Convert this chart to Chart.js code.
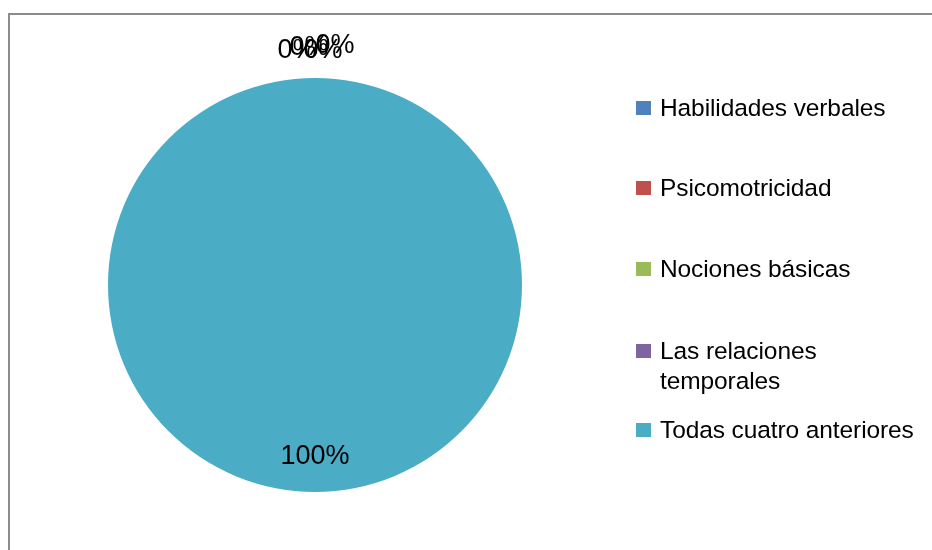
<!DOCTYPE html>
<html>
<head>
<meta charset="utf-8">
<script src="https://cdn.jsdelivr.net/npm/chart.js@4"></script>
<style>
  html, body { margin: 0; padding: 0; background: #fff; }
  #wrap { position: relative; width: 932px; height: 550px; overflow: hidden; }
  #frame { position: absolute; left: 8px; top: 13px; width: 1000px; height: 600px;
           border-left: 2px solid #8c8c8c; border-top: 2px solid #8c8c8c; }
  #chart { position: absolute; left: 0; top: 0; }
  .leg { position: absolute; left: 636px; font-family: "Liberation Sans Narrow", "Liberation Sans", sans-serif;
         font-size: 24.5px; line-height: 30px; color: #000; white-space: nowrap; letter-spacing: -0.1px; }
  .leg i { position: absolute; left: 0; top: 8px; width: 15px; height: 14px; }
  .leg span { display: block; margin-left: 24px; }
</style>
</head>
<body>
<div id="wrap">
  <div id="frame"></div>
  <canvas id="chart" width="932" height="550"></canvas>
  <div id="legend"></div>
</div>
<script>
// datos
const categories = [
  "Habilidades verbales",
  "Psicomotricidad",
  "Nociones básicas",
  ["Las relaciones", "temporales"],
  "Todas cuatro anteriores",
];
const percents = [0, 0, 0, 0, 100];
const sliceColors = ["#4F81BD", "#C0504D", "#9BBB59", "#8064A2", "#4BACC6"];

const LABEL_FONT = '27px "Liberation Sans Narrow", "Liberation Sans", sans-serif';

/** etiquetas de porcentaje sobre cada porción */
const pctLabels = {
  id: "pctLabels",
  afterDatasetsDraw(chart) {
    const ctx = chart.ctx;
    const meta = chart.getDatasetMeta(0);
    let zeroIdx = 0;
    ctx.save();
    ctx.font = LABEL_FONT;
    ctx.fillStyle = "#000";
    ctx.textAlign = "center";
    ctx.textBaseline = "middle";
    meta.data.forEach((arc, i) => {
      const v = percents[i];
      const { x, y, outerRadius, startAngle, endAngle } = arc.getProps(
        ["x", "y", "outerRadius", "startAngle", "endAngle"], true);
      const mid = (startAngle + endAngle) / 2;
      if (v === 0) {
        // porciones vacías: Excel las amontona fuera, arriba
        const r = outerRadius + 27;
        const dx = [-18, -6, 8, 20][zeroIdx] || 0;
        const dy = [0, -3, 0, -5][zeroIdx] || 0;
        ctx.fillText(v + "%", x + Math.cos(mid) * r + dx, y + Math.sin(mid) * r + dy);
        zeroIdx++;
      } else {
        const r = outerRadius * 0.83;
        ctx.fillText(v + "%", x + Math.cos(mid) * r, y + Math.sin(mid) * r);
      }
    });
    ctx.restore();
  },
};

function buildLegend() {
  const box = document.getElementById("legend");
  const rowTops = [93, 173, 254, 336, 415];
  categories.forEach((lab, i) => {
    const row = document.createElement("div");
    row.className = "leg";
    row.style.top = rowTops[i] + "px";
    const sw = document.createElement("i");
    sw.style.background = sliceColors[i];
    row.appendChild(sw);
    const lines = Array.isArray(lab) ? lab : [lab];
    lines.forEach((t) => {
      const s = document.createElement("span");
      s.textContent = t;
      row.appendChild(s);
    });
    box.appendChild(row);
  });
}

buildLegend();

new Chart(document.getElementById("chart"), {
  type: "pie",
  data: {
    labels: categories,
    datasets: [{
      data: percents,
      backgroundColor: sliceColors,
      borderWidth: 0,
    }],
  },
  options: {
    responsive: false,
    animation: false,
    layout: { padding: { left: 108, top: 78, right: 410, bottom: 58 } },
    plugins: {
      legend: { display: false },
      tooltip: { enabled: false },
    },
  },
  plugins: [pctLabels],
});
</script>
</body>
</html>
